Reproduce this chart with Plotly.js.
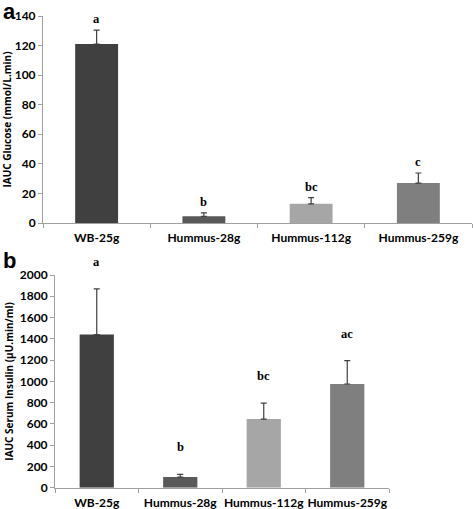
<!DOCTYPE html>
<html>
<head>
<meta charset="utf-8">
<script src="https://cdn.plot.ly/plotly-3.0.1.min.js"></script>
<style>html,body{margin:0;padding:0;background:#fff;}#chart{width:473px;height:509px;}</style>
</head>
<body>
<div id="chart"></div>
<script>
const categories = ["WB-25g", "Hummus-28g", "Hummus-112g", "Hummus-259g"];
const glucose = [121, 4.5, 13, 27];
const glucoseErr = [9.5, 2.3, 4.2, 6.8];
const glucoseLetters = ["a", "b", "bc", "c"];
const insulin = [1440, 100, 645, 975];
const insulinErr = [430, 25, 150, 220];
const insulinLetters = ["a", "b", "bc", "ac"];
const barColors = ["#404040", "#595959", "#a6a6a6", "#7f7f7f"];
const glucoseTicks = [0, 20, 40, 60, 80, 100, 120, 140];
const insulinTicks = [0, 200, 400, 600, 800, 1000, 1200, 1400, 1600, 1800, 2000];

const W = 473, H = 509;
const fx = p => p / W, fy = p => 1 - p / H;

const tickFont = {family: "Lato, 'Open Sans', sans-serif", size: 12, color: "#000", weight: 700};
const titleFont = {family: "'Open Sans', Lato, sans-serif", size: 10, color: "#000", weight: 700};
const letterFont = {family: "'Liberation Serif', serif", size: 12.5, color: "#000", weight: 700};

const traces = [
  {
    type: "bar", x: categories, y: glucose, xaxis: "x", yaxis: "y",
    marker: {color: barColors}, width: 0.4,
    error_y: {type: "data", array: glucoseErr, arrayminus: glucoseErr.map(() => 0), symmetric: false, color: "#404040", thickness: 1.2, width: 3},
    hoverinfo: "skip"
  },
  {
    type: "bar", x: categories, y: insulin, xaxis: "x2", yaxis: "y2",
    marker: {color: barColors}, width: 0.41,
    error_y: {type: "data", array: insulinErr, arrayminus: insulinErr.map(() => 0), symmetric: false, color: "#404040", thickness: 1.2, width: 3},
    hoverinfo: "skip"
  }
];

const annotations = [];
categories.forEach((c, i) => {
  annotations.push({xref: "x", yref: "y", x: c, y: glucose[i] + glucoseErr[i], text: glucoseLetters[i], showarrow: false, yanchor: "bottom", yshift: 2, font: letterFont});
  annotations.push({xref: "x2", yref: "y2", x: c, y: insulin[i] + insulinErr[i], text: insulinLetters[i], showarrow: false, yanchor: "bottom", yshift: 18, font: letterFont});
});
annotations.push({xref: "paper", yref: "paper", x: fx(1), y: fy(-3), xanchor: "left", yanchor: "top", text: "a", showarrow: false, font: {family: "'Liberation Sans', Arial, sans-serif", size: 22, color: "#000", weight: 700}});
annotations.push({xref: "paper", yref: "paper", x: fx(1), y: fy(246), xanchor: "left", yanchor: "top", text: "b", showarrow: false, font: {family: "'Liberation Sans', Arial, sans-serif", size: 22, color: "#000", weight: 700}});

const xCommon = {
  type: "category", showline: true, linecolor: "#a0a0a0", linewidth: 1,
  ticks: "outside", tickson: "boundaries", ticklen: 4, tickcolor: "#a0a0a0", tickangle: 0,
  tickfont: tickFont, showgrid: false, zeroline: false, fixedrange: true, ticklabelstandoff: 4
};
const yCommon = {
  showline: true, linecolor: "#a0a0a0", linewidth: 1, ticks: "outside", ticklen: 4, tickcolor: "#a0a0a0",
  tickfont: tickFont, showgrid: false, zeroline: false, tickmode: "array", fixedrange: true
};

const layout = {
  width: W, height: H,
  margin: {l: 0, r: 0, t: 0, b: 0},
  paper_bgcolor: "#fff", plot_bgcolor: "#fff",
  showlegend: false, bargap: 0.6,
  xaxis: Object.assign({}, xCommon, {domain: [fx(43), fx(472)], anchor: "y"}),
  yaxis: Object.assign({}, yCommon, {domain: [fy(223), fy(16)], range: [0, 140], tickvals: glucoseTicks, anchor: "x",
    title: {text: "<b>IAUC Glucose (mmol/L.min)</b>", font: titleFont, standoff: 4}}),
  xaxis2: Object.assign({}, xCommon, {domain: [fx(55), fx(389)], anchor: "y2"}),
  yaxis2: Object.assign({}, yCommon, {domain: [fy(487.7), fy(275)], range: [0, 2000], tickvals: insulinTicks, anchor: "x2",
    title: {text: "<b>IAUC Serum Insulin (µU.min/ml)</b>", font: titleFont, standoff: 4}}),
  annotations: annotations
};

Plotly.newPlot("chart", traces, layout, {displayModeBar: false, staticPlot: true});
</script>
</body>
</html>
